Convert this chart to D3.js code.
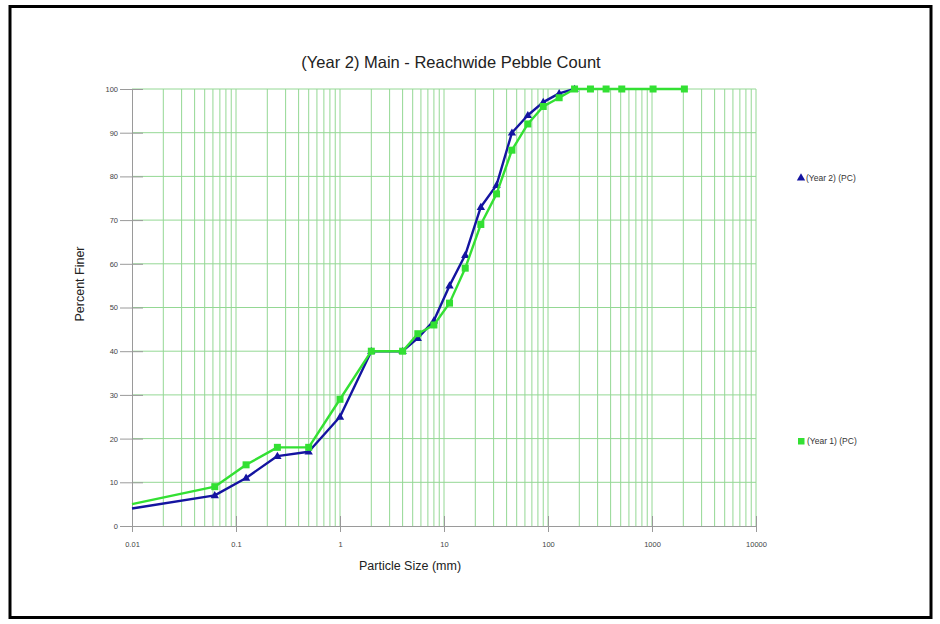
<!DOCTYPE html>
<html>
<head>
<meta charset="utf-8">
<script src="https://cdn.jsdelivr.net/npm/d3@7"></script>
<style>
  html, body { margin: 0; padding: 0; background: #fff; }
  svg { display: block; font-family: "Liberation Sans", Arial, sans-serif; }
</style>
</head>
<body>
<svg id="chart" width="940" height="624"></svg>
<script>
// ---- data ----
const title = "(Year 2) Main - Reachwide Pebble Count";
const xTitle = "Particle Size (mm)";
const yTitle = "Percent Finer";
const sizes = [0.01, 0.0625, 0.125, 0.25, 0.5, 1, 2, 4, 5.6, 8, 11.3, 16, 22.6, 32, 45, 64, 90, 128, 180, 256, 362, 512, 1024, 2048];
const year2 = [4, 7, 11, 16, 17, 25, 40, 40, 43, 47, 55, 62, 73, 78, 90, 94, 97, 99, 100, null, null, null, null, null];
const year1 = [5, 9, 14, 18, 18, 29, 40, 40, 44, 46, 51, 59, 69, 76, 86, 92, 96, 98, 100, 100, 100, 100, 100, 100];
const xTickValues = [0.01, 0.1, 1, 10, 100, 1000, 10000];
const xTickLabels = ["0.01", "0.1", "1", "10", "100", "1000", "10000"];
const yTickValues = [0, 10, 20, 30, 40, 50, 60, 70, 80, 90, 100];
const seriesNames = ["(Year 2) (PC)", "(Year 1) (PC)"];

// ---- layout ----
const svg = d3.select("#chart");
const L = 132, R = 756, T = 89, B = 526;
const x = d3.scaleLog().domain([0.01, 10000]).range([L, R]);
const y = d3.scaleLinear().domain([0, 100]).range([B, T]);

const blue = "#1414a0", green = "#33e033", gridC = "#94d894", axisC = "#9a9a9a";

// border
svg.append("rect").attr("x", 10).attr("y", 6.5).attr("width", 921).attr("height", 611)
  .attr("fill", "none").attr("stroke", "#000").attr("stroke-width", 3);

// grid: vertical minor + major
const gridX = [];
for (let e = -2; e < 4; e++) for (let m = 1; m < 10; m++) gridX.push(m * Math.pow(10, e));
gridX.push(10000);
svg.append("g").selectAll("line").data(gridX.filter(d => d > 0.01)).join("line")
  .attr("x1", d => x(d)).attr("x2", d => x(d)).attr("y1", T).attr("y2", B)
  .attr("stroke", gridC).attr("stroke-width", 1);
svg.append("g").selectAll("line").data(yTickValues.filter(d => d > 0)).join("line")
  .attr("x1", L).attr("x2", R).attr("y1", d => y(d)).attr("y2", d => y(d))
  .attr("stroke", gridC).attr("stroke-width", 1);

// axes
const xAxis = d3.axisBottom(x).tickValues(xTickValues)
  .tickFormat((d, i) => xTickLabels[i]).tickSize(6).tickPadding(10);
const gx = svg.append("g").attr("transform", `translate(0,${B})`).call(xAxis);
gx.select(".domain").attr("stroke", axisC);
gx.selectAll(".tick line").attr("stroke", axisC).attr("y1", -10).attr("y2", 6);
gx.selectAll(".tick text").attr("fill", "#444").attr("font-size", 7.5)
  .attr("font-family", "Liberation Sans, Arial, sans-serif");

const yAxis = d3.axisLeft(y).tickValues(yTickValues).tickSize(12).tickPadding(2);
const gy = svg.append("g").attr("transform", `translate(${L},0)`).call(yAxis);
gy.select(".domain").attr("stroke", axisC);
gy.selectAll(".tick line").attr("stroke", axisC).attr("x2", -12).attr("x1", 11);
gy.selectAll(".tick text").attr("fill", "#444").attr("font-size", 7.5)
  .attr("font-family", "Liberation Sans, Arial, sans-serif");

// titles
svg.append("text").attr("x", 451).attr("y", 68).attr("text-anchor", "middle")
  .attr("font-size", 16.5).attr("fill", "#222").text(title);
svg.append("text").attr("x", 410).attr("y", 570).attr("text-anchor", "middle")
  .attr("font-size", 12.5).attr("fill", "#222").text(xTitle);
svg.append("text").attr("transform", "translate(84,284) rotate(-90)").attr("text-anchor", "middle")
  .attr("font-size", 12.5).attr("fill", "#222").text(yTitle);

// series
const line = d3.line().defined(d => d[1] != null).x(d => x(d[0])).y(d => y(d[1]));
const s2 = sizes.map((s, i) => [s, year2[i]]).filter(d => d[1] != null);
const s1 = sizes.map((s, i) => [s, year1[i]]);
const tri = d3.symbol().type(d3.symbolTriangle).size(30);

svg.append("path").datum(s2).attr("d", line).attr("fill", "none")
  .attr("stroke", blue).attr("stroke-width", 2.4).attr("stroke-linejoin", "round");
svg.append("g").selectAll("path").data(s2.filter(d => d[0] > 0.01)).join("path")
  .attr("d", tri).attr("transform", d => `translate(${x(d[0])},${y(d[1]) + 0.5})`).attr("fill", blue);

svg.append("path").datum(s1).attr("d", line).attr("fill", "none")
  .attr("stroke", green).attr("stroke-width", 2.4).attr("stroke-linejoin", "round");
svg.append("g").selectAll("rect").data(s1.filter(d => d[0] > 0.01)).join("rect")
  .attr("x", d => x(d[0]) - 3.5).attr("y", d => y(d[1]) - 3.5)
  .attr("width", 7).attr("height", 7).attr("fill", green);

// legend
svg.append("path").attr("d", d3.symbol().type(d3.symbolTriangle).size(30))
  .attr("transform", "translate(801,178)").attr("fill", blue);
svg.append("text").attr("x", 806).attr("y", 181).attr("font-size", 8.5).attr("fill", "#333").text(seriesNames[0]);
svg.append("rect").attr("x", 798).attr("y", 438).attr("width", 6.5).attr("height", 6.5).attr("fill", green);
svg.append("text").attr("x", 807).attr("y", 444).attr("font-size", 8.5).attr("fill", "#333").text(seriesNames[1]);
</script>
</body>
</html>
